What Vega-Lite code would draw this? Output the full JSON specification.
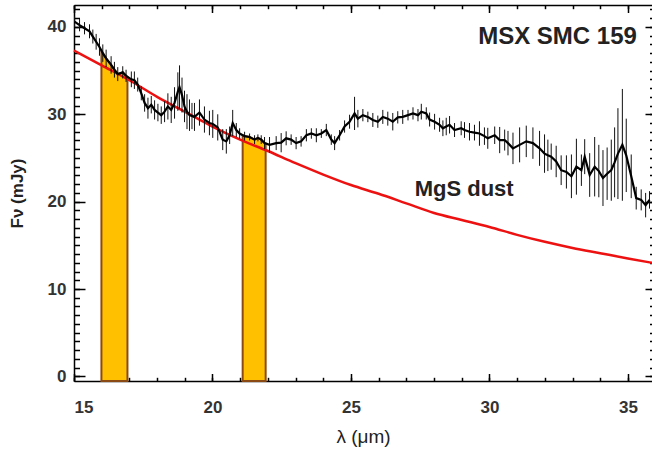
{
  "$schema": "https://vega.github.io/schema/vega-lite/v6.json",
  "autosize": "none",
  "width": 578,
  "height": 376,
  "padding": {"left": 74, "top": 5, "right": 0, "bottom": 68},
  "background": "white",
  "config": {"view": {"stroke": null}, "font": "Liberation Sans"},
  "datasets": {
    "spec": [
      {"x":15.02,"y":40.6,"err":0.6},{"x":15.2,"y":40.2,"err":0.7},{"x":15.38,"y":39.85,"err":0.7},{"x":15.56,"y":39.5,"err":0.8},
      {"x":15.68,"y":38.9,"err":0.8},{"x":15.8,"y":38.3,"err":0.9},{"x":15.92,"y":37.7,"err":1.0},{"x":16.04,"y":37.0,"err":1.0},
      {"x":16.16,"y":36.4,"err":1.0},{"x":16.34,"y":35.65,"err":1.0},{"x":16.46,"y":35.1,"err":0.9},{"x":16.58,"y":34.6,"err":0.8},
      {"x":16.76,"y":34.8,"err":0.7},{"x":16.88,"y":34.4,"err":0.7},{"x":17.07,"y":34.0,"err":0.9},{"x":17.18,"y":33.9,"err":1.0},
      {"x":17.3,"y":33.4,"err":0.8},{"x":17.43,"y":32.4,"err":0.8},{"x":17.55,"y":31.3,"err":1.0},{"x":17.67,"y":30.7,"err":1.2},
      {"x":17.79,"y":31.1,"err":1.0},{"x":17.91,"y":30.5,"err":1.1},{"x":18.03,"y":30.2,"err":1.0},{"x":18.15,"y":29.9,"err":1.0},
      {"x":18.27,"y":30.3,"err":1.2},{"x":18.39,"y":30.9,"err":1.5},{"x":18.51,"y":30.5,"err":1.5},{"x":18.63,"y":31.3,"err":1.8},
      {"x":18.75,"y":32.6,"err":2.2},{"x":18.81,"y":33.1,"err":2.5},{"x":18.9,"y":32.2,"err":2.0},{"x":18.99,"y":30.9,"err":1.8},
      {"x":19.08,"y":30.3,"err":2.0},{"x":19.17,"y":29.9,"err":1.8},{"x":19.26,"y":29.8,"err":1.5},{"x":19.35,"y":29.7,"err":1.6},
      {"x":19.53,"y":30.2,"err":1.5},{"x":19.71,"y":29.4,"err":1.5},{"x":19.89,"y":29.0,"err":1.4},{"x":20.01,"y":28.9,"err":1.6},
      {"x":20.19,"y":28.5,"err":1.5},{"x":20.37,"y":27.1,"err":1.2},{"x":20.5,"y":26.9,"err":1.4},{"x":20.62,"y":27.6,"err":1.0},
      {"x":20.73,"y":29.0,"err":1.5},{"x":20.86,"y":28.2,"err":0.8},{"x":20.98,"y":27.8,"err":0.6},{"x":21.16,"y":27.5,"err":0.5},
      {"x":21.34,"y":27.4,"err":0.4},{"x":21.52,"y":27.1,"err":0.5},{"x":21.64,"y":27.3,"err":0.4},{"x":21.76,"y":27.1,"err":0.5},
      {"x":21.88,"y":26.7,"err":0.7},{"x":22.06,"y":26.5,"err":0.9},{"x":22.3,"y":26.7,"err":0.8},{"x":22.48,"y":26.75,"err":1.1},
      {"x":22.66,"y":27.25,"err":0.8},{"x":22.84,"y":27.1,"err":0.6},{"x":23.02,"y":26.7,"err":0.7},{"x":23.2,"y":26.9,"err":0.6},
      {"x":23.39,"y":27.6,"err":0.7},{"x":23.57,"y":27.8,"err":0.6},{"x":23.75,"y":27.6,"err":0.8},{"x":23.93,"y":27.8,"err":0.5},
      {"x":24.11,"y":28.2,"err":0.7},{"x":24.29,"y":27.1,"err":0.6},{"x":24.41,"y":26.7,"err":0.8},{"x":24.59,"y":27.6,"err":0.6},
      {"x":24.77,"y":28.6,"err":0.7},{"x":24.95,"y":29.15,"err":0.8},{"x":25.13,"y":30.1,"err":1.9},{"x":25.25,"y":29.5,"err":1.0},
      {"x":25.43,"y":29.9,"err":0.7},{"x":25.61,"y":29.7,"err":0.6},{"x":25.79,"y":29.35,"err":0.8},{"x":25.97,"y":29.15,"err":0.7},
      {"x":26.15,"y":29.7,"err":0.8},{"x":26.33,"y":29.5,"err":0.8},{"x":26.51,"y":29.15,"err":1.0},{"x":26.69,"y":29.65,"err":0.7},
      {"x":26.87,"y":29.7,"err":0.8},{"x":27.06,"y":29.9,"err":0.6},{"x":27.24,"y":30.1,"err":0.7},{"x":27.42,"y":29.9,"err":0.7},
      {"x":27.54,"y":30.3,"err":0.9},{"x":27.72,"y":30.1,"err":0.7},{"x":27.84,"y":29.4,"err":0.8},{"x":28.02,"y":29.15,"err":0.9},
      {"x":28.2,"y":28.8,"err":0.8},{"x":28.32,"y":28.4,"err":0.9},{"x":28.44,"y":28.6,"err":1.0},{"x":28.56,"y":28.8,"err":1.0},
      {"x":28.74,"y":28.2,"err":0.8},{"x":28.98,"y":28.4,"err":0.8},{"x":29.1,"y":28.2,"err":0.9},{"x":29.28,"y":28.0,"err":1.0},
      {"x":29.46,"y":27.9,"err":0.9},{"x":29.64,"y":27.8,"err":1.4},{"x":29.82,"y":27.5,"err":1.0},{"x":29.94,"y":27.25,"err":1.2},
      {"x":30.19,"y":27.6,"err":1.0},{"x":30.37,"y":27.05,"err":1.5},{"x":30.55,"y":27.05,"err":1.2},{"x":30.67,"y":26.7,"err":1.4},
      {"x":30.85,"y":26.1,"err":1.8},{"x":31.09,"y":26.5,"err":2.0},{"x":31.33,"y":26.9,"err":1.8},{"x":31.57,"y":26.7,"err":1.8},
      {"x":31.81,"y":26.1,"err":2.0},{"x":31.99,"y":25.5,"err":2.2},{"x":32.11,"y":25.3,"err":1.8},{"x":32.23,"y":25.15,"err":1.5},
      {"x":32.41,"y":24.6,"err":1.8},{"x":32.59,"y":23.6,"err":1.7},{"x":32.78,"y":23.4,"err":1.9},{"x":32.96,"y":22.9,"err":2.5},
      {"x":33.14,"y":24.0,"err":3.2},{"x":33.32,"y":23.6,"err":1.8},{"x":33.44,"y":25.15,"err":2.0},{"x":33.62,"y":23.05,"err":2.5},
      {"x":33.8,"y":24.0,"err":3.4},{"x":33.95,"y":23.5,"err":3.0},{"x":34.1,"y":22.7,"err":3.2},{"x":34.25,"y":23.2,"err":3.0},
      {"x":34.4,"y":23.6,"err":3.5},{"x":34.52,"y":24.5,"err":4.0},{"x":34.64,"y":25.5,"err":5.2},{"x":34.8,"y":26.5,"err":6.4},
      {"x":34.94,"y":25.3,"err":4.2},{"x":35.12,"y":22.9,"err":2.5},{"x":35.3,"y":20.4,"err":1.3},{"x":35.48,"y":20.2,"err":1.2},
      {"x":35.64,"y":19.6,"err":1.4},{"x":35.78,"y":20.2,"err":1.0}
    ],
    "bands": [
      {"band":"A","x":15.99,"y":37.1},{"band":"A","x":16.04,"y":37.0},{"band":"A","x":16.16,"y":36.4},{"band":"A","x":16.34,"y":35.65},
      {"band":"A","x":16.46,"y":35.1},{"band":"A","x":16.58,"y":34.6},{"band":"A","x":16.76,"y":34.8},{"band":"A","x":16.88,"y":34.4},
      {"band":"A","x":16.93,"y":34.3},
      {"band":"B","x":21.09,"y":27.6},{"band":"B","x":21.16,"y":27.5},{"band":"B","x":21.34,"y":27.4},{"band":"B","x":21.52,"y":27.1},
      {"band":"B","x":21.64,"y":27.3},{"band":"B","x":21.76,"y":27.1},{"band":"B","x":21.88,"y":26.7},{"band":"B","x":21.92,"y":26.65}
    ],
    "model": [
      {"x":15,"y":37.3},{"x":16,"y":35.6},{"x":17,"y":33.9},{"x":18,"y":32.0},{"x":19,"y":30.3},{"x":20,"y":28.6},
      {"x":21,"y":27.1},{"x":22,"y":25.8},{"x":23,"y":24.4},{"x":24,"y":23.1},{"x":25,"y":21.9},{"x":26,"y":20.9},
      {"x":27,"y":19.8},{"x":28,"y":18.7},{"x":29,"y":17.9},{"x":30,"y":17.1},{"x":31,"y":16.2},{"x":32,"y":15.4},
      {"x":33,"y":14.7},{"x":34,"y":14.1},{"x":35,"y":13.5},{"x":35.87,"y":13.0}
    ],
    "one": [{}]
  },
  "resolve": {"axis": {"x": "independent", "y": "independent"}},
  "layer": [
    {
      "data": {"name": "bands"},
      "mark": {"type": "area", "fill": "#FFC000", "stroke": "#8B4A14", "strokeWidth": 2, "strokeJoin": "miter"},
      "encoding": {
        "x": {"field": "x", "type": "quantitative",
          "scale": {"domain": [15, 35.87], "nice": false, "zero": false},
          "axis": {"orient": "bottom", "values": [15, 20, 25, 30, 35], "tickSize": -7.5, "tickWidth": 1.5, "tickColor": "black",
            "domain": true, "domainColor": "black", "domainWidth": 1.5, "grid": false,
            "labelFont": "Liberation Sans", "labelFontSize": 17, "labelFontWeight": "bold", "labelColor": "#333333", "labelPadding": 26,
            "title": "λ (μm)", "titleFont": "Liberation Sans", "titleFontSize": 19, "titleFontWeight": "normal", "titleColor": "#222222", "titlePadding": 12}},
        "y": {"field": "y", "type": "quantitative",
          "scale": {"domain": [-0.53, 42.51], "nice": false, "zero": false},
          "axis": {"orient": "left", "values": [0, 10, 20, 30, 40], "tickSize": -11, "tickWidth": 1.5, "tickColor": "black",
            "domain": true, "domainColor": "black", "domainWidth": 1.5, "grid": false,
            "labelFont": "Liberation Sans", "labelFontSize": 17, "labelFontWeight": "bold", "labelColor": "#333333", "labelPadding": 19,
            "title": "Fν (mJy)", "titleFont": "Liberation Sans", "titleFontSize": 17, "titleFontWeight": "bold", "titleColor": "#222222", "titlePadding": 21}},
        "y2": {"datum": -0.53},
        "detail": {"field": "band"}
      }
    },
    {
      "data": {"name": "model"},
      "mark": {"type": "line", "color": "#ee1111", "strokeWidth": 2.5, "interpolate": "monotone"},
      "encoding": {
        "x": {"field": "x", "type": "quantitative",
          "axis": {"orient": "bottom", "values": [15,16,17,18,19,20,21,22,23,24,25,26,27,28,29,30,31,32,33,34,35], "tickSize": -3.7, "tickWidth": 1.5, "tickColor": "black",
            "domain": false, "labels": false, "title": null, "grid": false}},
        "y": {"field": "y", "type": "quantitative",
          "axis": {"orient": "left", "values": [0,1,2,3,4,5,6,7,8,9,10,11,12,13,14,15,16,17,18,19,20,21,22,23,24,25,26,27,28,29,30,31,32,33,34,35,36,37,38,39,40,41,42], "tickSize": -5.5, "tickWidth": 1.5, "tickColor": "black",
            "domain": false, "labels": false, "title": null, "grid": false}}
      }
    },
    {
      "data": {"name": "spec"},
      "mark": {"type": "errorbar", "ticks": false, "rule": {"stroke": "#111111", "strokeWidth": 1}},
      "encoding": {
        "x": {"field": "x", "type": "quantitative", "axis": null},
        "y": {"field": "y", "type": "quantitative", "axis": null},
        "yError": {"field": "err"}
      }
    },
    {
      "data": {"name": "spec"},
      "mark": {"type": "line", "color": "black", "strokeWidth": 2.2},
      "encoding": {
        "x": {"field": "x", "type": "quantitative",
          "axis": {"orient": "top", "values": [15, 20, 25, 30, 35], "tickSize": -7.5, "tickWidth": 1.5, "tickColor": "black",
            "domain": true, "domainColor": "black", "domainWidth": 1.5, "labels": false, "title": null, "grid": false}},
        "y": {"field": "y", "type": "quantitative",
          "axis": {"orient": "right", "values": [0, 10, 20, 30, 40], "tickSize": -7, "tickWidth": 1.5, "tickColor": "black",
            "domain": false, "labels": false, "title": null, "grid": false}}
      }
    },
    {
      "data": {"name": "one"},
      "mark": {"type": "text", "text": "MSX SMC 159", "align": "right", "baseline": "alphabetic", "font": "Liberation Sans", "fontSize": 24, "fontWeight": "bold", "color": "#222222"},
      "encoding": {
        "x": {"datum": 35.325, "type": "quantitative",
          "axis": {"orient": "top", "values": [15,16,17,18,19,20,21,22,23,24,25,26,27,28,29,30,31,32,33,34,35], "tickSize": -3.7, "tickWidth": 1.5, "tickColor": "black",
            "domain": false, "labels": false, "title": null, "grid": false}},
        "y": {"datum": 38.05, "type": "quantitative",
          "axis": {"orient": "right", "values": [0,1,2,3,4,5,6,7,8,9,10,11,12,13,14,15,16,17,18,19,20,21,22,23,24,25,26,27,28,29,30,31,32,33,34,35,36,37,38,39,40,41,42], "tickSize": -2.5, "tickWidth": 1.5, "tickColor": "black",
            "domain": false, "labels": false, "title": null, "grid": false}}
      }
    },
    {
      "data": {"name": "one"},
      "mark": {"type": "text", "text": "MgS dust", "align": "left", "baseline": "alphabetic", "font": "Liberation Sans", "fontSize": 22, "fontWeight": "bold", "color": "#222222"},
      "encoding": {
        "x": {"datum": 27.3, "type": "quantitative", "axis": null},
        "y": {"datum": 20.68, "type": "quantitative", "axis": null}
      }
    }
  ]
}
